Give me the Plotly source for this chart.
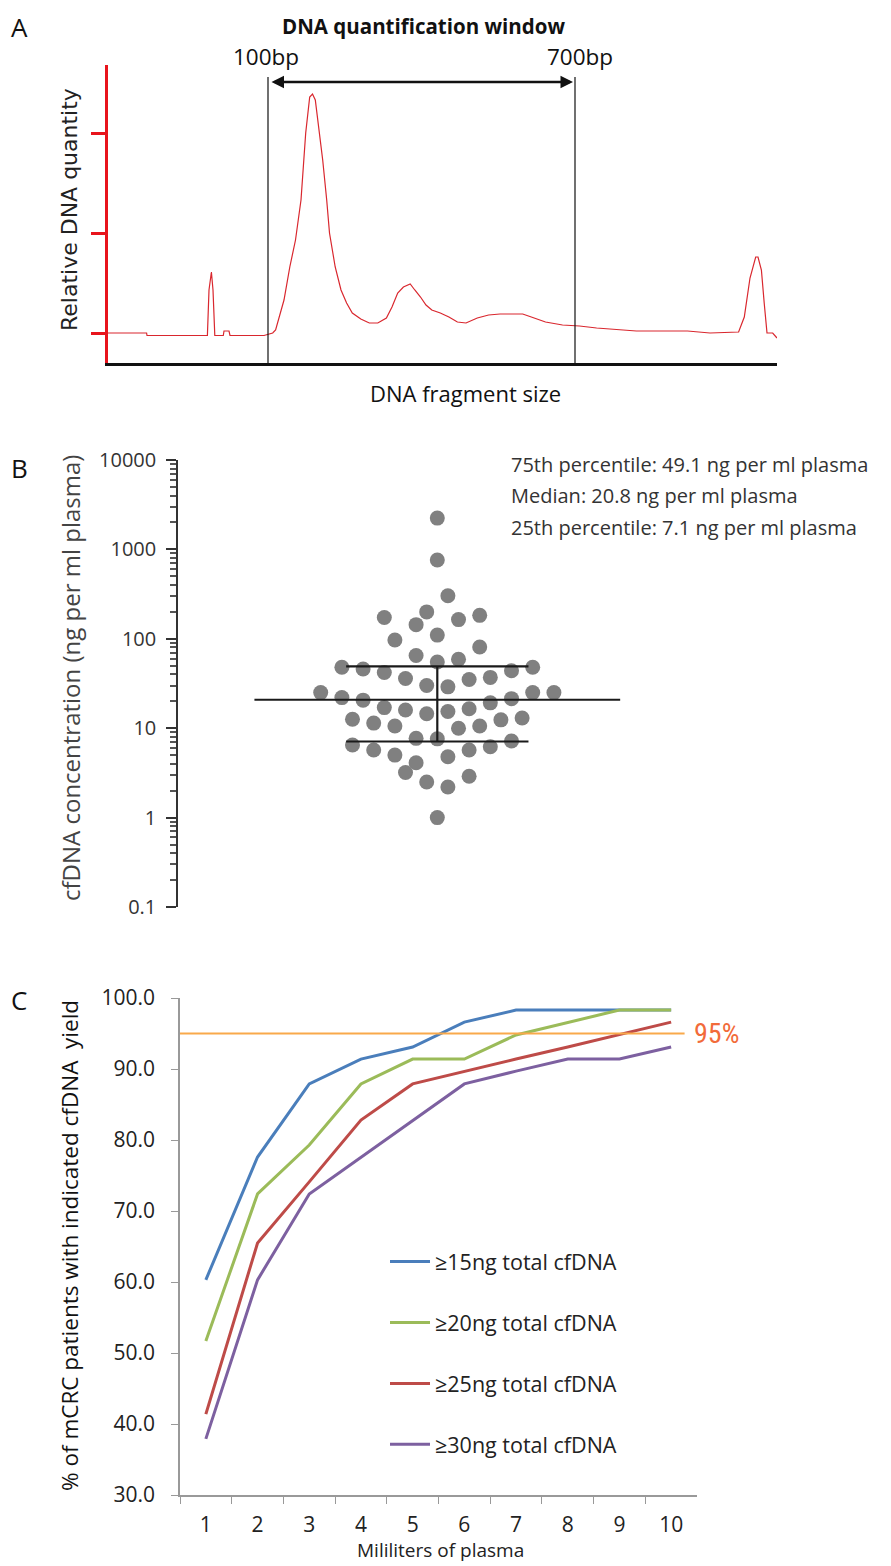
import plotly.graph_objects as go

# The page body keeps a default 8px margin, so the figure is drawn 8px in from the page corner.
OFF = 8
W, H = 891 - OFF, 1566 - OFF
def fx(px): return (px - OFF) / W
def fy(py): return 1 - (py - OFF) / H

# ---------------- Panel A data (electropherogram, arbitrary units) ----------------
a_size = [108, 146.6, 147, 207.4, 209, 211.4, 213, 214.8, 223.3, 224, 229, 230, 264, 272.7, 275.6, 278.4,
          284, 289.8, 295.5, 301, 305.7, 309.7, 312.5, 315.3, 318, 322.7, 326.7, 329.5, 335.2, 341,
          346.6, 352.3, 360.8, 369.3, 377.8, 386.4, 392, 397.7, 403.4, 410.2, 414.8, 420.5, 426,
          431.8, 440.3, 448.9, 457.4, 466, 477.3, 488.6, 500, 522.7, 531.3, 545.5, 562.5, 579.5,
          596.6, 613.6, 636.4, 687.5, 710, 738.6, 744.3, 750, 755.7, 758, 761.4, 764.2, 767, 772.7, 777]
a_qty = [0.0, 0.0, -0.025, -0.025, 0.43, 0.61, 0.43, -0.025, -0.025, 0.02, 0.02, -0.025, -0.025, 0.0, 0.03, 0.13,
         0.33, 0.66, 0.93, 1.33, 2.0, 2.36, 2.39, 2.33, 2.13, 1.73, 1.33, 1.0, 0.66, 0.43,
         0.30, 0.2, 0.14, 0.10, 0.10, 0.15, 0.26, 0.40, 0.46, 0.49, 0.43, 0.36, 0.28,
         0.23, 0.20, 0.16, 0.11, 0.10, 0.15, 0.18, 0.19, 0.19, 0.16, 0.11, 0.08, 0.07,
         0.05, 0.04, 0.02, 0.02, 0.0, 0.01, 0.16, 0.55, 0.76, 0.76, 0.63, 0.3, 0.0, 0.0, -0.05]
a_window = [268, 575]
a_window_labels = ["100bp", "700bp"]

# ---------------- Panel B data ----------------
b_conc = [2240, 760, 303, 200, 173, 183, 144, 164, 97, 110,
          81, 65, 55, 59, 48, 46, 42, 44, 48, 36,
          35, 37, 30, 29, 25, 22, 20.6, 21.4, 25, 25,
          19.2, 17.0, 16.0, 14.5, 15.4, 16.5, 12.6, 11.4, 10.6, 10.0,
          10.6, 12.4, 13.0, 7.7, 7.6, 7.2, 6.5, 5.7, 5.7, 6.2,
          5.0, 4.8, 4.1, 3.2, 2.5, 2.2, 2.9, 1.0]
b_offset = [0, 0, 1, -1, -5, 4, -2, 2, -4, 0,
            4, -2, 0, 2, -9, -7, -5, 7, 9, -3,
            3, 5, -1, 1, -11, -9, -7, 7, 9, 11,
            5, -5, -3, -1, 1, 3, -8, -6, -4, 2,
            4, 6, 8, -2, 0, 7, -8, -6, 3, 5,
            -4, 1, -2, -3, -1, 1, 3, 0]
b_median, b_p25, b_p75 = 20.8, 7.1, 49.1
b_median_halfwidth, b_iqr_halfwidth = 17.25, 8.6
b_ticks = [0.1, 1, 10, 100, 1000, 10000]
b_ticktext = ["0.1", "1", "10", "100", "1000", "10000"]
b_notes = ["75th percentile: 49.1 ng per ml plasma",
           "Median: 20.8 ng per ml plasma",
           "25th percentile: 7.1 ng per ml plasma"]

# ---------------- Panel C data ----------------
c_ml = ["1", "2", "3", "4", "5", "6", "7", "8", "9", "10"]
c_15 = [60.3, 77.6, 87.9, 91.4, 93.1, 96.6, 98.3, 98.3, 98.3, 98.3]
c_20 = [51.7, 72.4, 79.3, 87.9, 91.4, 91.4, 94.8, 96.6, 98.3, 98.3]
c_25 = [41.4, 65.5, 74.1, 82.8, 87.9, 89.7, 91.4, 93.1, 94.8, 96.6]
c_30 = [37.9, 60.3, 72.4, 77.6, 82.8, 87.9, 89.7, 91.4, 91.4, 93.1]
c_names = ["≥15ng total cfDNA", "≥20ng total cfDNA", "≥25ng total cfDNA", "≥30ng total cfDNA"]
c_colors = ["#4a7ebb", "#9bbb59", "#be4b48", "#7d60a0"]
c_threshold = 95

SANS = "Open Sans, Lato, DejaVu Sans, sans-serif"
NARROW = "Liberation Sans Narrow, Roboto Condensed, Liberation Sans, sans-serif"

fig = go.Figure()

# Panel A
fig.add_trace(go.Scatter(x=a_size, y=a_qty, mode="lines", line=dict(color="#d9272e", width=1.2),
                         xaxis="x", yaxis="y", showlegend=False, hoverinfo="skip"))

# Panel B
fig.add_trace(go.Scatter(x=b_offset, y=b_conc, mode="markers",
                         marker=dict(size=15, color="#808080", line=dict(width=0)),
                         xaxis="x2", yaxis="y2", showlegend=False))
for yv, hw in [(b_median, b_median_halfwidth), (b_p75, b_iqr_halfwidth), (b_p25, b_iqr_halfwidth)]:
    fig.add_trace(go.Scatter(x=[-hw, hw], y=[yv, yv], mode="lines", line=dict(color="#1a1a1a", width=2.2),
                             xaxis="x2", yaxis="y2", showlegend=False))
fig.add_trace(go.Scatter(x=[0, 0], y=[b_p25, b_p75], mode="lines", line=dict(color="#1a1a1a", width=2.2),
                         xaxis="x2", yaxis="y2", showlegend=False))

# Panel C
for i, (ys, nm, col) in enumerate(zip([c_15, c_20, c_25, c_30], c_names, c_colors)):
    fig.add_trace(go.Scatter(x=c_ml, y=ys, mode="lines", name=nm, line=dict(color=col, width=3),
                             xaxis="x3", yaxis="y3", legendgroup=f"g{i}"))

minor_b = [k * 10 ** d for d in range(-1, 4) for k in range(2, 10)]

fig.update_layout(
    width=W, height=H, margin=dict(l=0, r=0, t=0, b=0, pad=0, autoexpand=False),
    paper_bgcolor="white", plot_bgcolor="white",
    font=dict(family=SANS, color="#222"),
    xaxis=dict(domain=[fx(108), fx(777)], range=[108, 777], anchor="y", automargin=False, showgrid=False,
               zeroline=False, showline=True, linecolor="#111", linewidth=2.5, showticklabels=False, ticks=""),
    yaxis=dict(domain=[fy(363), fy(65)], range=[-0.3, 2.68], anchor="x", automargin=False, showgrid=False,
               zeroline=False, showline=True, linecolor="#e8141c", linewidth=2.5, tickvals=[0, 1, 2],
               ticks="outside", ticklen=14, tickwidth=3, tickcolor="#e8141c", showticklabels=False),
    xaxis2=dict(domain=[fx(178), fx(700)], range=[-24.46, 24.78], anchor="y2", automargin=False, visible=False),
    yaxis2=dict(domain=[fy(907), fy(460)], type="log", range=[-1, 4], anchor="x2", automargin=False,
                showgrid=False, zeroline=False, showline=True, linecolor="#333", linewidth=1.5,
                tickvals=b_ticks, ticktext=b_ticktext, ticks="outside", ticklen=10, tickwidth=1.5,
                tickcolor="#333", ticklabelstandoff=6, tickfont=dict(size=20, color="#333"),
                minor=dict(tickvals=minor_b, ticks="outside", ticklen=6, tickcolor="#555", showgrid=False)),
    xaxis3=dict(domain=[fx(180), fx(697)], type="category", range=[-0.5, 9.5], anchor="y3", automargin=False,
                showgrid=False, zeroline=False, showline=True, linecolor="#999", linewidth=1.5,
                ticks="outside", tickson="boundaries", ticklen=7, tickcolor="#999", ticklabelstandoff=10,
                tickfont=dict(size=21, color="#222")),
    yaxis3=dict(domain=[fy(1495), fy(998)], range=[30, 100], dtick=10, tickformat=".1f", anchor="x3",
                automargin=False, showgrid=False, zeroline=False, showline=True, linecolor="#999",
                linewidth=1.5, ticks="outside", ticklen=7, tickcolor="#999", ticklabelstandoff=12,
                tickfont=dict(size=21, color="#222")),
    legend=dict(x=fx(385), y=fy(1241), xanchor="left", yanchor="top", bgcolor="rgba(0,0,0,0)",
                font=dict(size=21.5, color="#222"), tracegroupgap=30, itemwidth=40),
)

def note(px, py, text, size, color="#111", family=SANS, xanchor="center", angle=0):
    fig.add_annotation(x=fx(px), y=fy(py), xref="paper", yref="paper", text=text, showarrow=False,
                       xanchor=xanchor, yanchor="middle", textangle=angle,
                       font=dict(size=size, color=color, family=family))

# Panel A shapes / annotations
for xv in a_window:
    fig.add_shape(type="line", xref="x", yref="y", x0=xv, x1=xv, y0=-0.3, y1=2.56,
                  line=dict(color="#111", width=1.2))
fig.add_annotation(x=a_window[1] - 2, y=2.51, ax=a_window[0] + 2, ay=2.51, xref="x", yref="y",
                   axref="x", ayref="y", text="", showarrow=True, arrowside="end+start",
                   arrowhead=2, arrowsize=1, arrowwidth=2.5, arrowcolor="#111")
note(266, 57, a_window_labels[0], 22.5)
note(580, 57, a_window_labels[1], 22.5)
note(423, 26, "<b>DNA quantification window</b>", 20.5)
note(466, 393, "DNA fragment size", 22)
note(69, 210, "Relative DNA quantity", 22, color="#222", family="DejaVu Sans, sans-serif", angle=-90)

# Panel B annotations
for i, t in enumerate(b_notes):
    note(509, 464 + 31.5 * i, t, 20, color="#333", xanchor="left")
note(71, 678, "cfDNA concentration (ng per ml plasma)", 24, color="#444", angle=-90)

# Panel C extras
fig.add_shape(type="line", xref="x3 domain", yref="y3", x0=0, x1=0.976, y0=c_threshold, y1=c_threshold,
              line=dict(color="#f9a94b", width=2))
note(692, 1033, f"{c_threshold}%", 28, color="#f26b3a", family=NARROW, xanchor="left")
note(69, 1246, "% of mCRC patients with indicated cfDNA  yield", 22.5, angle=-90)
note(440, 1550, "Mililiters of plasma", 19, color="#222")

# Panel letters
for letter, py in [("A", 27), ("B", 468), ("C", 1000)]:
    note(19, py, letter, 26)

fig.write_html("out.html")
